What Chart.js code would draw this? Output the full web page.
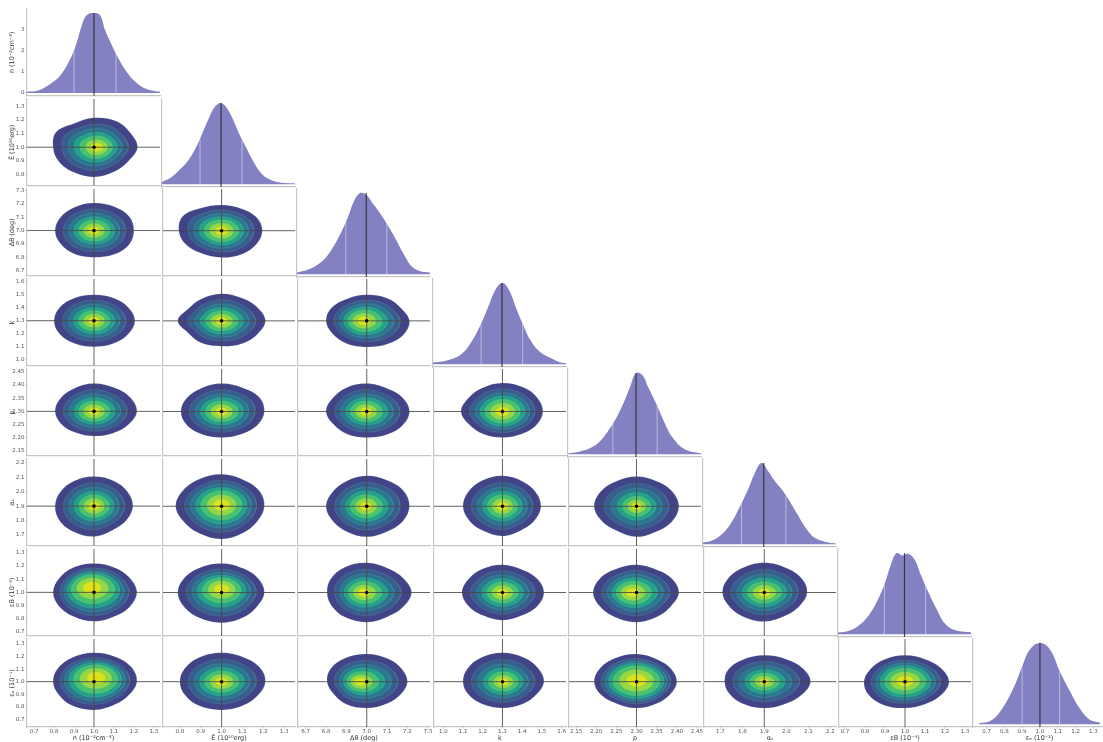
<!DOCTYPE html>
<html>
<head>
<meta charset="utf-8">
<script src="https://cdn.jsdelivr.net/npm/chart.js@4.4.1/dist/chart.umd.min.js"></script>
<style>
  html, body { margin: 0; padding: 0; background: #fff; width: 1103px; height: 742px; overflow: hidden; position: relative; }
  canvas { position: absolute; }
</style>
</head>
<body>
<script>
// ---- parameters of the fit ----
const paramLabels = ['n (10⁻²cm⁻³)', 'Ē (10⁵⁰erg)', 'Δθ (deg)', 'k', 'p', 'αₛ', 'εB (10⁻⁴)', 'εₑ (10⁻¹)'];
const truths = [1.0, 1.0, 7.0, 1.3, 2.3, 1.9, 1.0, 1.0];
const sigmas = [0.1, 0.1, 0.1, 0.1, 0.05, 0.1, 0.1, 0.1];
const decimals = [1, 1, 1, 1, 2, 1, 1, 1];

const ticksN = [0.7, 0.8, 0.9, 1.0, 1.1, 1.2, 1.3];
const ticksE = [0.8, 0.9, 1.0, 1.1, 1.2, 1.3];
const ticksTheta = [6.7, 6.8, 6.9, 7.0, 7.1, 7.2, 7.3];
const ticksK = [1.0, 1.1, 1.2, 1.3, 1.4, 1.5, 1.6];
const ticksP = [2.15, 2.20, 2.25, 2.30, 2.35, 2.40, 2.45];
const ticksAlpha = [1.7, 1.8, 1.9, 2.0, 2.1, 2.2];
const ticksEpsB = [0.7, 0.8, 0.9, 1.0, 1.1, 1.2, 1.3];
const ticksEpsE = [0.7, 0.8, 0.9, 1.0, 1.1, 1.2, 1.3];
const ticksDensity = [0, 1, 2, 3];
const tickSets = [ticksN, ticksE, ticksTheta, ticksK, ticksP, ticksAlpha, ticksEpsB, ticksEpsE];

// axis limits (as columns / as rows)
const xLims = [[0.664, 1.331], [0.719, 1.352], [6.662, 7.311], [0.953, 1.622], [2.1325, 2.46], [1.626, 2.226], [0.67, 1.33], [0.624, 1.371]];
const yLims = [[-0.13, 3.99], [0.719, 1.352], [6.662, 7.311], [0.953, 1.622], [2.1325, 2.46], [1.626, 2.226], [0.67, 1.33], [0.639, 1.34]];

// 16th / 84th percentiles of each marginal
const q16 = [0.90, 0.90, 6.90, 1.195, 2.243, 1.80, 0.90, 0.90];
const q84 = [1.11, 1.10, 7.10, 1.404, 2.352, 2.00, 1.105, 1.11];

// marginal densities
const kdeX = [
  [0.664, 0.72, 0.78, 0.83, 0.88, 0.913, 0.94, 0.964, 1.0, 1.03, 1.055, 1.088, 1.12, 1.16, 1.21, 1.26, 1.31, 1.331],
  [0.719, 0.76, 0.80, 0.84, 0.88, 0.91, 0.94, 0.97, 1.0, 1.03, 1.06, 1.09, 1.12, 1.15, 1.19, 1.23, 1.28, 1.352],
  [6.662, 6.72, 6.78, 6.83, 6.87, 6.91, 6.94, 6.97, 7.0, 7.03, 7.06, 7.10, 7.14, 7.18, 7.22, 7.26, 7.311],
  [0.953, 1.027, 1.095, 1.145, 1.195, 1.236, 1.27, 1.303, 1.336, 1.37, 1.404, 1.445, 1.495, 1.545, 1.595, 1.622],
  [2.133, 2.16, 2.19, 2.21, 2.23, 2.25, 2.27, 2.285, 2.30, 2.315, 2.33, 2.35, 2.37, 2.39, 2.42, 2.46],
  [1.626, 1.67, 1.71, 1.75, 1.79, 1.83, 1.86, 1.89, 1.92, 1.95, 1.98, 2.01, 2.05, 2.09, 2.13, 2.18, 2.226],
  [0.67, 0.72, 0.77, 0.82, 0.86, 0.90, 0.93, 0.96, 0.99, 1.02, 1.05, 1.08, 1.12, 1.16, 1.20, 1.25, 1.33],
  [0.657, 0.72, 0.775, 0.85, 0.905, 0.944, 1.0, 1.056, 1.112, 1.17, 1.225, 1.28, 1.337]
];
const kdeY = [
  [0.06, 0.12, 0.43, 0.82, 1.6, 2.38, 3.24, 3.7, 3.8, 3.7, 3.0, 2.3, 1.68, 1.06, 0.51, 0.2, 0.08, 0.07],
  [0.11, 0.3, 0.65, 1.06, 1.71, 2.36, 3.04, 3.61, 3.8, 3.53, 2.96, 2.28, 1.71, 1.14, 0.53, 0.23, 0.08, 0.04],
  [0.08, 0.23, 0.57, 1.14, 1.82, 2.66, 3.42, 3.8, 3.72, 3.34, 2.96, 2.36, 1.71, 0.99, 0.38, 0.15, 0.08],
  [0.08, 0.19, 0.47, 1.03, 1.9, 2.81, 3.53, 3.8, 3.46, 2.66, 1.9, 1.1, 0.55, 0.29, 0.08, 0.06],
  [0.08, 0.23, 0.61, 1.14, 2.05, 3.19, 4.71, 6.08, 7.37, 7.22, 6.08, 4.56, 2.89, 1.52, 0.46, 0.08],
  [0.08, 0.19, 0.46, 0.95, 1.71, 2.58, 3.34, 3.8, 3.42, 2.96, 2.58, 2.13, 1.44, 0.76, 0.3, 0.11, 0.04],
  [0.08, 0.15, 0.38, 0.84, 1.44, 2.28, 3.12, 3.72, 3.61, 3.69, 3.42, 2.74, 1.9, 1.14, 0.49, 0.19, 0.08],
  [0.04, 0.15, 0.57, 1.67, 2.81, 3.5, 3.8, 3.5, 2.47, 1.52, 0.72, 0.21, 0.08]
];

// outer contour of each 2D density: radius (in sigmas) every 30 deg, starting at +x, counter-clockwise
const outlines = [
  [2.18, 2.1, 2.2, 2.15, 2.0, 2.2, 2.05, 2.05, 2.1, 2.17, 2.05, 2.0],    // E  / n
  [2.0, 2.05, 2.05, 2.06, 2.0, 1.95, 1.95, 1.95, 2.0, 1.99, 2.05, 2.05],  // dθ / n
  [1.95, 1.95, 1.9, 1.92, 1.95, 2.15, 2.05, 2.0, 1.95, 2.0, 2.0, 1.95],  // dθ / E
  [2.05, 2.0, 2.0, 2.0, 2.0, 2.0, 2.0, 2.0, 2.0, 2.0, 2.0, 2.0],         // k / n
  [2.1, 2.0, 2.0, 2.08, 1.95, 1.85, 2.1, 1.85, 1.95, 1.95, 2.0, 2.0],    // k / E
  [2.1, 1.95, 2.0, 2.0, 1.95, 2.0, 2.0, 1.95, 2.0, 2.0, 2.05, 2.1],      // k / dθ
  [2.15, 2.1, 2.05, 2.1, 2.0, 1.95, 1.95, 1.9, 1.85, 1.87, 1.9, 2.0],    // p / n
  [2.05, 2.1, 2.05, 2.1, 2.0, 1.95, 1.95, 1.95, 1.95, 1.95, 1.95, 2.0],  // p / E
  [2.1, 2.05, 2.0, 2.1, 2.05, 1.95, 2.0, 1.9, 1.95, 1.95, 2.0, 2.05],    // p / dθ
  [2.05, 2.05, 2.1, 2.15, 2.05, 2.0, 2.1, 1.95, 1.95, 1.95, 1.95, 2.0],  // p / k
  [1.95, 1.95, 2.0, 2.05, 2.0, 1.95, 1.95, 2.0, 2.05, 2.1, 1.9, 1.9],    // αs / n
  [2.05, 2.1, 2.1, 2.2, 2.15, 2.15, 2.2, 2.1, 2.15, 2.25, 2.1, 2.0],     // αs / E
  [2.1, 2.1, 2.05, 2.1, 2.0, 1.95, 2.0, 1.95, 2.0, 2.1, 2.0, 2.05],      // αs / dθ
  [1.95, 1.95, 2.0, 2.1, 2.05, 2.0, 2.0, 1.95, 1.95, 2.05, 1.9, 1.9],    // αs / k
  [2.1, 2.05, 2.0, 2.05, 2.0, 2.05, 2.1, 2.0, 1.95, 2.1, 2.0, 2.05],     // αs / p
  [2.15, 2.1, 2.15, 2.2, 2.15, 2.05, 2.05, 2.05, 2.1, 2.2, 2.1, 2.1],    // εB / n
  [2.05, 2.05, 2.1, 2.2, 2.15, 2.1, 2.1, 2.1, 2.2, 2.3, 2.15, 2.0],      // εB / E
  [2.2, 2.1, 2.1, 2.25, 2.2, 2.05, 1.95, 2.0, 2.15, 2.25, 2.1, 2.1],     // εB / dθ
  [2.1, 2.05, 2.0, 2.1, 2.05, 2.0, 2.05, 2.0, 2.0, 2.1, 2.0, 2.05],      // εB / k
  [2.1, 2.05, 2.0, 2.1, 2.05, 2.1, 2.15, 2.1, 2.15, 2.25, 2.1, 2.0],     // εB / p
  [1.95, 2.0, 2.1, 2.25, 2.1, 1.95, 1.9, 1.9, 2.05, 2.2, 2.0, 1.9],      // εB / αs
  [2.15, 2.2, 2.25, 2.3, 2.2, 2.1, 2.05, 2.05, 2.2, 2.25, 2.1, 2.05],    // εe / n
  [2.1, 2.15, 2.2, 2.3, 2.2, 2.05, 2.0, 2.05, 2.2, 2.25, 2.15, 2.05],    // εe / E
  [2.0, 2.0, 2.1, 2.2, 2.15, 2.05, 1.95, 1.9, 2.05, 2.1, 2.0, 1.95],     // εe / dθ
  [2.1, 2.1, 2.2, 2.3, 2.2, 2.05, 2.0, 2.0, 2.05, 2.1, 2.05, 2.0],       // εe / k
  [2.0, 2.0, 2.05, 2.2, 2.15, 2.1, 2.1, 2.05, 2.0, 2.1, 2.0, 1.95],      // εe / p
  [2.1, 2.05, 2.05, 2.1, 2.0, 1.9, 1.8, 1.85, 2.0, 2.1, 2.0, 2.0],       // εe / αs
  [2.2, 2.1, 2.05, 2.1, 2.05, 2.0, 2.05, 2.1, 2.15, 2.1, 2.05, 2.1]      // εe / εB
];

// where the densest region sits (offset from the truth, in sigmas) and how large it is
const peakShift = [
  [0.15, 0.0], [0.0, 0.0], [0.0, 0.0], [0.0, 0.0], [0.0, 0.0], [-0.15, 0.0],
  [0.0, 0.0], [0.0, 0.0], [-0.05, 0.0], [0.0, 0.0],
  [0.0, 0.0], [0.0, 0.1], [-0.05, 0.0], [0.0, 0.0], [0.0, 0.0],
  [-0.1, 0.35], [0.0, 0.25], [-0.15, 0.0], [0.0, 0.0], [-0.2, 0.0], [0.0, 0.0],
  [0.1, 0.3], [0.0, 0.0], [-0.3, 0.0], [0.05, 0.0], [0.0, 0.1], [0.0, 0.0], [0.0, 0.05]
];
const peakSize = [
  1.0, 1.0, 1.1, 1.0, 1.0, 1.1,
  1.0, 1.0, 1.0, 1.2,
  1.0, 1.3, 1.0, 1.0, 0.8,
  1.5, 1.2, 1.0, 1.0, 1.1, 1.0,
  1.5, 1.0, 1.0, 0.9, 1.7, 0.8, 1.4
];

// filled density levels, outermost first: size relative to the outer contour
const levelFrac = [1, 0.79, 0.64, 0.51, 0.39, 0.26, 0.14];
const levelColors = ['#414487', '#35608d', '#29798e', '#20a386', '#4ac16d', '#95d840', '#dde318'];
// how strongly each level follows the peak position / size
const levelPeakWeight = [0, 0.1, 0.25, 0.45, 0.65, 0.85, 1];

// ---- grid layout ----
const COL0 = 27, COLSTEP = 135.2, PW = 133;
const ROW0 = 9, ROWSTEP = 90, PH = 88;
const GRAY = '#c6c6c6';
const FONT = 'DejaVu Sans';

const fmt = (v, d) => Number(v).toFixed(d);

function axisConfig(lims, ticks, dec, showLabels, title, size, horizontal) {
  return {
    type: 'linear',
    min: lims[0],
    max: lims[1],
    afterBuildTicks: s => { s.ticks = ticks.map(v => ({ value: v })); },
    afterFit: s => { if (horizontal) s.height = size; else s.width = size; },
    ticks: {
      display: showLabels,
      autoSkip: false,
      maxRotation: 0,
      padding: horizontal ? 0 : 1,
      color: '#555',
      font: { family: FONT, size: 5.5 },
      callback: v => fmt(v, dec)
    },
    grid: { display: showLabels, drawOnChartArea: false, drawTicks: true, tickLength: 1.5, color: GRAY },
    border: { display: true, color: GRAY, width: 1.2 },
    title: {
      display: showLabels && !!title,
      text: title,
      color: '#333',
      font: { family: FONT, size: 6.5 },
      padding: horizontal ? { top: 0, bottom: 0 } : { top: 9, bottom: 0 }
    }
  };
}

function makePanel(r, c, datasets, yLim, yTicks, yDec) {
  const L = c === 0 ? 28 : 3;
  const B = r === 7 ? 15 : 3;
  const T = 6;
  const R = c === 7 ? 0 : 6;
  const left = COL0 + c * COLSTEP;
  const top = ROW0 + r * ROWSTEP;
  const cv = document.createElement('canvas');
  cv.width = L + PW + R;
  cv.height = T + PH + B;
  cv.style.left = (left - L) + 'px';
  cv.style.top = (top - T) + 'px';
  cv.style.width = cv.width + 'px';
  cv.style.height = cv.height + 'px';
  document.body.appendChild(cv);

  new Chart(cv.getContext('2d'), {
    type: 'line',
    data: { datasets },
    options: {
      responsive: false,
      animation: false,
      events: [],
      parsing: false,
      normalized: true,
      layout: { padding: { top: T, right: R, left: 0, bottom: 0 } },
      plugins: { legend: { display: false }, tooltip: { enabled: false } },
      elements: { point: { radius: 0 } },
      scales: {
        x: axisConfig(xLims[c], tickSets[c], decimals[c], r === 7, paramLabels[c], B, true),
        y: axisConfig(yLim, yTicks, yDec, c === 0, paramLabels[r], L, false)
      }
    }
  });
}

// value of a marginal at x (linear between read points)
function densityAt(i, x) {
  const xs = kdeX[i], ys = kdeY[i];
  for (let j = 0; j < xs.length - 1; j++) {
    if (x >= xs[j] && x <= xs[j + 1]) {
      const t = (x - xs[j]) / (xs[j + 1] - xs[j]);
      return ys[j] + t * (ys[j + 1] - ys[j]);
    }
  }
  return 0;
}

function vline(x, y0, y1, color, width, order) {
  return { data: [{ x, y: y0 }, { x, y: y1 }], borderColor: color, borderWidth: width, fill: false, pointRadius: 0, order };
}

// ---- diagonal: 1D marginals ----
for (let i = 0; i < 8; i++) {
  const peak = Math.max(...kdeY[i]);
  const lim = i === 0 ? yLims[0] : [-0.034 * peak, 1.05 * peak];
  const datasets = [
    {
      data: kdeX[i].map((x, j) => ({ x, y: kdeY[i][j] })),
      fill: 'origin',
      backgroundColor: '#8481c3',
      borderWidth: 0,
      pointRadius: 0,
      tension: 0.4,
      order: 5
    },
    vline(q16[i], 0, densityAt(i, q16[i]), 'rgba(255,255,255,0.45)', 1, 2),
    vline(q84[i], 0, densityAt(i, q84[i]), 'rgba(255,255,255,0.45)', 1, 2),
    vline(truths[i], lim[0], peak, 'rgba(40,40,40,0.85)', 1.2, 1)
  ];
  makePanel(i, i, datasets, lim, i === 0 ? ticksDensity : [], 0);
}

// ---- lower triangle: 2D densities ----
function ring(r, c, k) {
  const idx = r * (r - 1) / 2 + c;
  const rad = outlines[idx];
  const mean = rad.reduce((a, b) => a + b, 0) / rad.length;
  const w = levelPeakWeight[k];
  const f = levelFrac[k] * (1 + (peakSize[idx] - 1) * w);
  const cx = truths[c] + peakShift[idx][0] * w * sigmas[c];
  const cy = truths[r] + peakShift[idx][1] * w * sigmas[r];
  const pts = rad.map((rr, j) => {
    const a = j * Math.PI / 6;
    const rk = f * (mean + (rr - mean) * levelFrac[k]);
    return { x: cx + rk * Math.cos(a) * sigmas[c], y: cy + rk * Math.sin(a) * sigmas[r] };
  });
  const n = pts.length;
  return [pts[n - 1], ...pts, pts[0], pts[1]];
}

for (let r = 1; r < 8; r++) {
  for (let c = 0; c < r; c++) {
    const datasets = [];
    levelFrac.forEach((f, k) => {
      datasets.push({
        data: ring(r, c, k),
        fill: 'shape',
        backgroundColor: levelColors[k],
        borderColor: 'rgba(225,225,225,0.22)',
        borderWidth: 0.5,
        pointRadius: 0,
        tension: 0.38,
        order: 20 - k
      });
    });
    const xl = xLims[c], yl = yLims[r];
    datasets.push({ data: [{ x: xl[0], y: truths[r] }, { x: xl[1], y: truths[r] }], borderColor: 'rgba(70,70,70,0.85)', borderWidth: 1, pointRadius: 0, fill: false, order: 3 });
    datasets.push(vline(truths[c], yl[0], yl[1], 'rgba(70,70,70,0.85)', 1, 3));
    datasets.push({ data: [{ x: truths[c], y: truths[r] }], showLine: false, pointRadius: 1.8, pointBackgroundColor: '#000', pointBorderWidth: 0, order: 1 });
    makePanel(r, c, datasets, yLims[r], tickSets[r], decimals[r]);
  }
}
</script>
</body>
</html>
